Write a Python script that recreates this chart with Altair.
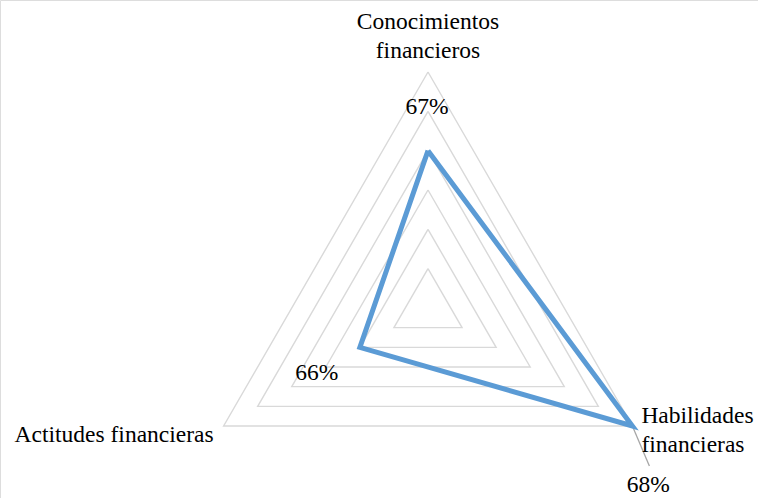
import math
import altair as alt
import pandas as pd

# ---- data ----
categories = ["Conocimientos financieros", "Habilidades financieras", "Actitudes financieras"]
label_text = ["Conocimientos\nfinancieros", "Habilidades\nfinancieras", "Actitudes financieras"]
values = [0.67, 0.68, 0.66]
data_labels = ["67%", "68%", "66%"]
grid_levels = [0.655, 0.66, 0.665, 0.67, 0.675, 0.68]
axis_min, axis_max = 0.65, 0.68

# ---- geometry ----
angles = [90, -30, 210]


def to_xy(v, ang):
    r = (v - axis_min) / (axis_max - axis_min)
    a = math.radians(ang)
    return r * math.cos(a), r * math.sin(a)


grid_rows = []
for lv in grid_levels:
    for k in range(4):
        i = k % 3
        x, y = to_xy(lv, angles[i])
        grid_rows.append({"level": lv, "order": k, "x": x, "y": y})
grid_df = pd.DataFrame(grid_rows)

series_rows = []
for k in range(4):
    i = k % 3
    x, y = to_xy(values[i], angles[i])
    series_rows.append({"order": k, "x": x, "y": y, "cat": categories[i],
                        "label": data_labels[i]})
series_df = pd.DataFrame(series_rows)
points_df = series_df.iloc[:3].reset_index(drop=True)

cat_rows = []
for i, c in enumerate(categories):
    x, y = to_xy(axis_max, angles[i])
    cat_rows.append({"cat": c, "text": label_text[i], "x": x, "y": y})
cat_df = pd.DataFrame(cat_rows)

px, py = to_xy(values[1], angles[1])
leader_df = pd.DataFrame([{"x": px, "y": py, "x2": px + 17 / 236, "y2": py - 40 / 236}])

W, H = 758, 498
R = 236.0
cx, cy = 428.0, 308.0
xs = alt.Scale(domain=[-cx / R, (W - cx) / R], nice=False, zero=False)
ys = alt.Scale(domain=[-(H - cy) / R, cy / R], nice=False, zero=False)
X = lambda f="x": alt.X(f, type="quantitative", scale=xs, axis=None)
Y = lambda f="y": alt.Y(f, type="quantitative", scale=ys, axis=None)

FONT = "Liberation Serif"
FS = 23.5

grid = alt.Chart(grid_df).mark_line(color="#D9D9D9", strokeWidth=1.4).encode(
    x=X(), y=Y(), detail="level:N", order="order:Q"
)

leader = alt.Chart(leader_df).mark_rule(color="#A6A6A6", strokeWidth=1.3).encode(
    x=X(), y=Y(), x2="x2:Q", y2="y2:Q"
)

series = alt.Chart(series_df).mark_line(color="#5B9BD5", strokeWidth=5,
                                        strokeJoin="miter").encode(
    x=X(), y=Y(), order="order:Q"
)


def cat_label(cat, align, dx, dy):
    return alt.Chart(cat_df).transform_filter(alt.datum.cat == cat).mark_text(
        fontSize=FS, color="#000000", align=align, baseline="alphabetic",
        dx=dx, dy=dy, lineBreak="\n", lineHeight=29
    ).encode(x=X(), y=Y(), text="text:N")


def val_label(cat, dx, dy):
    return alt.Chart(points_df).transform_filter(alt.datum.cat == cat).mark_text(
        fontSize=FS, color="#000000", align="center", baseline="alphabetic",
        dx=dx, dy=dy
    ).encode(x=X(), y=Y(), text="label:N")


chart = alt.layer(
    grid,
    leader,
    series,
    cat_label(categories[0], "center", 0, -43),
    cat_label(categories[1], "left", 9, -3),
    cat_label(categories[2], "right", -10, 16),
    val_label(categories[0], -1, -37),
    val_label(categories[1], 16, 66),
    val_label(categories[2], -43, 33),
).properties(
    width=W, height=H, autosize=alt.AutoSizeParams(type="none"), padding=0
).configure_view(stroke=None).configure(
    background="white", font=FONT
).configure_text(font=FONT)

chart.save("out.html", embed_options={"renderer": "svg", "actions": False})
